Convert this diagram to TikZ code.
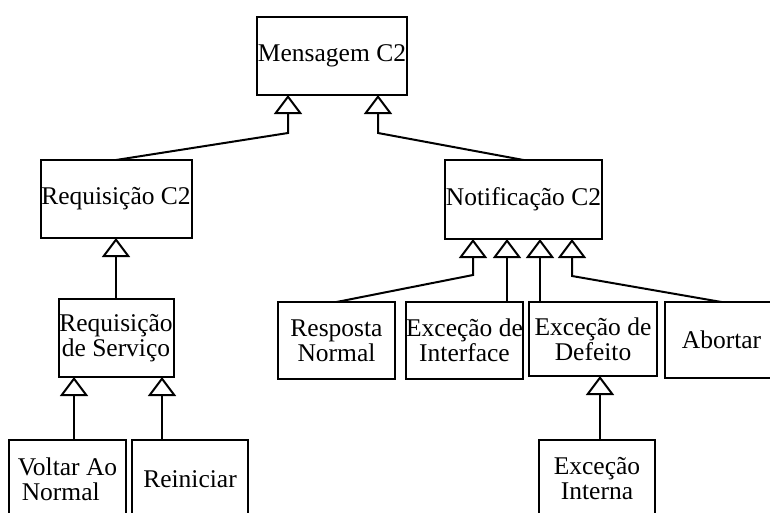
\documentclass[tikz,border=0pt]{standalone}
\usepackage{fontspec}
\setmainfont{Liberation Serif}
\usetikzlibrary{arrows.meta}

\tikzset{
  cls/.style={draw, line width=2pt, rectangle, inner sep=0pt, outer sep=0pt,
    align=center, font={\fontsize{25.5pt}{25pt}\selectfont}},
  inh/.style={line width=2pt,
    -{Triangle[open, width=28pt, length=19pt, line width=2pt]}}
}

\begin{document}
\begin{tikzpicture}[x=1pt, y=-1pt]
  \useasboundingbox (0,0) rectangle (770,512);
  \clip (0,0) rectangle (770,512);

  % class boxes
  \node[cls, minimum width=150pt, minimum height=78pt] (msg)   at (332,56)    {Mensagem C2};
  \node[cls, minimum width=151pt, minimum height=78pt] (req)   at (116,199)   {Requisição C2};
  \node[cls, minimum width=157pt, minimum height=79pt] (notif) at (523.5,199.5) {Notificação C2};
  \node[cls, minimum width=115pt, minimum height=78pt] (reqs)  at (116,338)   {Requisição\\de Serviço};
  \node[cls, minimum width=117pt, minimum height=77pt] (resp)  at (336.5,340.5) {Resposta\\Normal};
  \node[cls, minimum width=115pt, minimum height=77pt] (exif)  at (464.5,340.5) {Exceção de\\Interface};
  \node[cls, minimum width=128pt, minimum height=74pt] (exdef) at (593,339)   {Exceção de\\Defeito};
  \node[cls, minimum width=113pt, minimum height=76pt] (abort) at (721.5,340) {Abortar};
  \node[cls, minimum width=117pt, minimum height=78pt, align=left] (volt) at (67.5,479) {Voltar Ao\\\hspace*{4pt}Normal};
  \node[cls, minimum width=116pt, minimum height=78pt] (rein)  at (190,479)   {Reiniciar};
  \node[cls, minimum width=116pt, minimum height=78pt] (exin)  at (597,479)   {Exceção\\Interna};

  % attachment columns and bends of the generalisation lines
  \coordinate (mL) at (288,133);
  \coordinate (mR) at (378,133);
  \coordinate (n1) at (473,275);
  \coordinate (n2) at (507,0);
  \coordinate (n3) at (540,0);
  \coordinate (n4) at (572,276);
  \coordinate (rv) at (74,0);
  \coordinate (rr) at (162,0);
  \coordinate (dx) at (600,0);

  % generalisation connectors
  \draw[inh] (req.north) -- (mL) -- (mL |- msg.south);
  \draw[inh] (notif.north) -- (mR) -- (mR |- msg.south);
  \draw[inh] (reqs.north) -- (req.south);
  \draw[inh] (rv |- volt.north) -- (rv |- reqs.south);
  \draw[inh] (rr |- rein.north) -- (rr |- reqs.south);
  \draw[inh] (resp.north) -- (n1) -- (n1 |- notif.south);
  \draw[inh] (n2 |- exif.north) -- (n2 |- notif.south);
  \draw[inh] (n3 |- exdef.north) -- (n3 |- notif.south);
  \draw[inh] (abort.north) -- (n4) -- (n4 |- notif.south);
  \draw[inh] (dx |- exin.north) -- (dx |- exdef.south);
\end{tikzpicture}
\end{document}
